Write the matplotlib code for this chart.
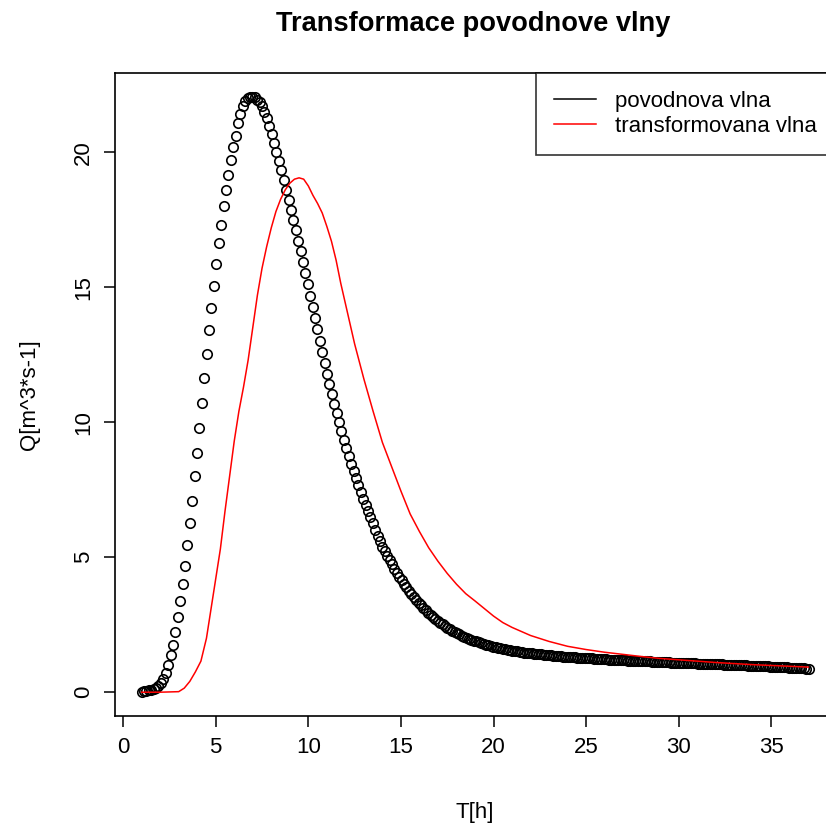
import numpy as np
import matplotlib
matplotlib.use("Agg")
import matplotlib.pyplot as plt

plt.rcParams['font.family'] = ['Liberation Sans', 'DejaVu Sans']

# povodnova vlna - prutok po krocich 0.13 h od T = 1 h
q_vlna = [
    0.00, 0.03, 0.05, 0.07, 0.09, 0.12, 0.16, 0.23,
    0.33, 0.49, 0.72, 1.01, 1.36, 1.76, 2.23, 2.79, 3.37, 3.99,
    4.68, 5.45, 6.28, 7.09, 7.99, 8.86, 9.79, 10.70, 11.63, 12.52,
    13.41, 14.23, 15.06, 15.87, 16.62, 17.31, 18.00, 18.60, 19.16, 19.70,
    20.20, 20.60, 21.07, 21.40, 21.70,
    21.88, 22.00, 22.05, 22.05, 22.03, 21.95, 21.85, 21.70, 21.50, 21.25,
    20.97, 20.66, 20.35, 20.02, 19.68, 19.33, 18.97, 18.60, 18.23, 17.86,
    17.48, 17.10, 16.72,
    16.34, 15.93, 15.51, 15.10, 14.68, 14.27, 13.85, 13.44, 13.02, 12.61,
    12.19, 11.79, 11.41, 11.04, 10.68, 10.33, 9.99, 9.66, 9.34, 9.03,
    8.73, 8.45, 8.18, 7.92, 7.66, 7.41, 7.17, 6.94, 6.72, 6.50,
    6.25, 6.02, 5.80, 5.59, 5.39,
    5.22, 5.05, 4.89, 4.73, 4.57, 4.42, 4.28, 4.14, 4.01, 3.88,
    3.76, 3.64, 3.53, 3.42, 3.32, 3.22, 3.12, 3.03, 2.94, 2.86,
    2.78, 2.71, 2.64, 2.57, 2.51, 2.45, 2.39, 2.33, 2.28, 2.23,
    2.18, 2.14, 2.10, 2.06, 2.02, 1.98, 1.94, 1.91, 1.88, 1.85,
    1.82, 1.79, 1.76, 1.74, 1.71, 1.69, 1.67, 1.65, 1.63, 1.61,
    1.59, 1.57, 1.56, 1.54, 1.53, 1.51, 1.50, 1.49, 1.47, 1.46,
    1.45, 1.44, 1.43, 1.42, 1.41, 1.40, 1.39, 1.38, 1.37, 1.36,
    1.35, 1.34, 1.33, 1.33, 1.32, 1.31, 1.31, 1.30, 1.29, 1.29,
    1.28, 1.27, 1.27, 1.26,
    1.26, 1.25, 1.25, 1.24, 1.24, 1.23, 1.23, 1.22, 1.22, 1.21,
    1.21, 1.20, 1.20, 1.19, 1.19, 1.18, 1.18, 1.17, 1.17, 1.16,
    1.16, 1.16, 1.15, 1.15, 1.14, 1.14, 1.14, 1.13, 1.13, 1.12,
    1.12, 1.12, 1.11, 1.11, 1.11, 1.10, 1.10, 1.10, 1.09,
    1.09, 1.08, 1.08, 1.08, 1.07, 1.07, 1.07, 1.06, 1.06, 1.06,
    1.05, 1.05, 1.04, 1.04, 1.04, 1.03, 1.03, 1.03, 1.02, 1.02,
    1.01, 1.01, 1.01, 1.00, 1.00, 0.99, 0.99, 0.99, 0.98, 0.98,
    0.98, 0.97, 0.97, 0.97, 0.96, 0.96, 0.96, 0.95,
    0.95, 0.94, 0.94, 0.93, 0.93, 0.92, 0.92, 0.91, 0.91, 0.90,
    0.90, 0.89, 0.88, 0.88, 0.87, 0.86,
]
t_vlna = 1 + 0.13 * np.arange(len(q_vlna))

# transformovana vlna
t_transf = [1.0, 2.0, 3.0, 3.3, 3.6, 3.9, 4.2, 4.5, 4.75, 5.0, 5.25, 5.5, 5.75,
            6.0, 6.25, 6.5, 6.75, 7.0, 7.25, 7.5, 7.75, 8.0, 8.25, 8.5, 8.75,
            9.0, 9.25, 9.5, 9.75, 10.0, 10.25, 10.5, 10.75, 11.0, 11.25, 11.5,
            11.75, 12.0, 12.25, 12.5, 12.75, 13.0, 13.5, 14.0, 14.5, 15.0,
            15.5, 16.0, 16.5, 17.0, 17.5, 18.0, 18.5, 19.0, 19.5, 20.0, 20.5,
            21.0, 21.5, 22.0, 23.0, 24.0, 25.0, 26.0, 27.0, 28.0, 29.0, 30.0,
            31.0, 32.0, 33.0, 34.0, 35.0, 36.0, 37.0]
q_transf = [0.0, 0.0, 0.02, 0.15, 0.4, 0.75, 1.15, 2.0, 3.1, 4.2, 5.3, 6.7, 8.0,
            9.3, 10.4, 11.3, 12.3, 13.5, 14.7, 15.7, 16.5, 17.2, 17.8, 18.25, 18.6,
            18.85, 19.0, 19.05, 19.0, 18.75, 18.4, 18.1, 17.75, 17.25, 16.7, 16.0,
            15.15, 14.4, 13.65, 12.9, 12.25, 11.6, 10.4, 9.25, 8.35, 7.45,
            6.6, 5.95, 5.35, 4.85, 4.4, 4.0, 3.65, 3.38, 3.1, 2.82, 2.58,
            2.4, 2.25, 2.1, 1.88, 1.7, 1.58, 1.48, 1.4, 1.32, 1.25, 1.2,
            1.15, 1.1, 1.06, 1.02, 0.99, 0.96, 0.93]

fig = plt.figure(figsize=(8.26, 8.25), dpi=100)
ax = fig.add_axes([0.1392, 0.1321, 0.8717, 0.7794])

ax.plot(t_vlna, q_vlna, 'o', mfc='none', mec='black', ms=6.8, mew=1.2,
        label='povodnova vlna')
ax.plot(t_transf, q_transf, color='red', lw=1.1)

# legenda - cara misto kolecka jako v R
leg_h = [plt.Line2D([], [], color='black', lw=1.1),
         plt.Line2D([], [], color='red', lw=1.1)]
leg = ax.legend(leg_h, ['povodnova vlna', 'transformovana vlna'],
                loc='upper right', bbox_to_anchor=(1, 1), borderaxespad=0,
                fancybox=False, fontsize=16, handlelength=1.9,
                handletextpad=0.85, borderpad=0.8, labelspacing=0.2)
leg.get_frame().set_edgecolor('black')
leg.get_frame().set_linewidth(1.2)

ymax = max(q_vlna)
ax.set_xlim(1 - 0.04 * 36, 37 + 0.04 * 36)
ax.set_ylim(-0.04 * ymax, ymax * 1.04)
ax.set_xticks([0, 5, 10, 15, 20, 25, 30, 35])
ax.set_yticks([0, 5, 10, 15, 20])
ax.tick_params(direction='out', length=8, width=1.1, labelsize=16, pad=7)
for lab in ax.get_yticklabels():
    lab.set_rotation(90)
    lab.set_va('center')
for s in ax.spines.values():
    s.set_linewidth(1.2)

ax.set_xlabel('T[h]', fontsize=16)
ax.xaxis.set_label_coords(0.5, -0.133)
ax.set_ylabel('Q[m^3*s-1]', fontsize=16)
ax.yaxis.set_label_coords(-0.104, 0.5)

fig.text(0.5727, 1 - 24 / 825, 'Transformace povodnove vlny', fontsize=19.6,
         fontweight='bold', ha='center', va='center')

fig.savefig('out.png', dpi=100)
